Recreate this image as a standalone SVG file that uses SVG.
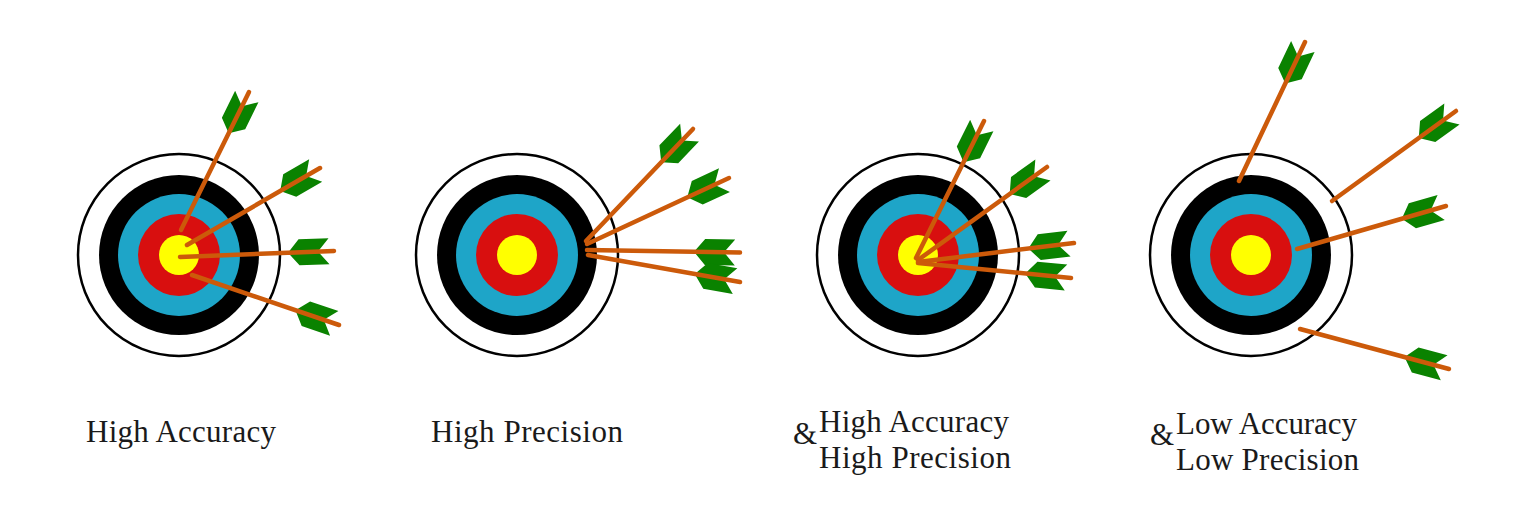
<svg xmlns="http://www.w3.org/2000/svg" width="1536" height="512" viewBox="0 0 1536 512">
<style>
.ring0{fill:#fff;stroke:#000;stroke-width:2.5}
.ring1{fill:#000}.ring2{fill:#1ea5c8}.ring3{fill:#d80f0f}.ring4{fill:#ffff00}
.shaft{stroke:#cc5a0a;stroke-width:4.5;stroke-linecap:round;fill:none}
.fl{fill:#0a8200}
.lbl{font-family:"Liberation Serif","Times New Roman",serif;font-size:31px;fill:#1a1a1a}
</style>
<defs>
<g id="target">
<circle class="ring0" r="101"/><circle class="ring1" r="80"/><circle class="ring2" r="61"/><circle class="ring3" r="41"/><circle class="ring4" r="20"/>
</g>
<g id="fletch">
<polygon class="fl" points="-46,0 -35,-13 -5,-13 -16,0 -5,13 -35,13"/>
</g>
</defs>
<rect width="1536" height="512" fill="#fff"/>
<g id="target1"><use href="#target" x="179" y="255"/></g>
<g id="target2"><use href="#target" x="517" y="255"/></g>
<g id="target3"><use href="#target" x="918" y="255"/></g>
<g id="target4"><use href="#target" x="1251" y="255"/></g>
<g id="connectors">
<use href="#fletch" transform="translate(249,92) rotate(-63.8)"/><line class="shaft" x1="181" y1="230" x2="249" y2="92"/>
<use href="#fletch" transform="translate(320,168) rotate(-30.1)"/><line class="shaft" x1="187" y1="245" x2="320" y2="168"/>
<use href="#fletch" transform="translate(334,251) rotate(-2.2)"/><line class="shaft" x1="180" y1="257" x2="334" y2="251"/>
<use href="#fletch" transform="translate(339,325) rotate(18.8)"/><line class="shaft" x1="192" y1="275" x2="339" y2="325"/>
<use href="#fletch" transform="translate(693,129) rotate(-46.3)"/><line class="shaft" x1="586" y1="241" x2="693" y2="129"/>
<use href="#fletch" transform="translate(729,178) rotate(-24.9)"/><line class="shaft" x1="587" y1="244" x2="729" y2="178"/>
<use href="#fletch" transform="translate(740,252.5) rotate(0.9)"/><line class="shaft" x1="587" y1="250" x2="740" y2="252.5"/>
<use href="#fletch" transform="translate(740,282) rotate(10.1)"/><line class="shaft" x1="588" y1="255" x2="740" y2="282"/>
<use href="#fletch" transform="translate(984,121) rotate(-63.6)"/><line class="shaft" x1="916" y1="258" x2="984" y2="121"/>
<use href="#fletch" transform="translate(1047,167) rotate(-35.8)"/><line class="shaft" x1="918" y1="260" x2="1047" y2="167"/>
<use href="#fletch" transform="translate(1074,243) rotate(-6.9)"/><line class="shaft" x1="918" y1="262" x2="1074" y2="243"/>
<use href="#fletch" transform="translate(1071,278) rotate(5.6)"/><line class="shaft" x1="918" y1="263" x2="1071" y2="278"/>
<use href="#fletch" transform="translate(1305,42) rotate(-64.6)"/><line class="shaft" x1="1239" y1="181" x2="1305" y2="42"/>
<use href="#fletch" transform="translate(1456,111) rotate(-36)"/><line class="shaft" x1="1332" y1="201" x2="1456" y2="111"/>
<use href="#fletch" transform="translate(1446,206) rotate(-16.1)"/><line class="shaft" x1="1297" y1="249" x2="1446" y2="206"/>
<use href="#fletch" transform="translate(1449,369) rotate(15)"/><line class="shaft" x1="1300" y1="329" x2="1449" y2="369"/>
</g>
<g id="labels">
<text class="lbl" x="86" y="442" textLength="190" lengthAdjust="spacing">High Accuracy</text>
<text class="lbl" x="431" y="442" textLength="192" lengthAdjust="spacing">High Precision</text>
<text class="lbl" x="793" y="444">&amp;</text>
<text class="lbl" x="819" y="432" textLength="190" lengthAdjust="spacing">High Accuracy</text>
<text class="lbl" x="819" y="468" textLength="192" lengthAdjust="spacing">High Precision</text>
<text class="lbl" x="1150" y="445">&amp;</text>
<text class="lbl" x="1176" y="434" textLength="181" lengthAdjust="spacing">Low Accuracy</text>
<text class="lbl" x="1176" y="470" textLength="183" lengthAdjust="spacing">Low Precision</text>
</g>
</svg>
